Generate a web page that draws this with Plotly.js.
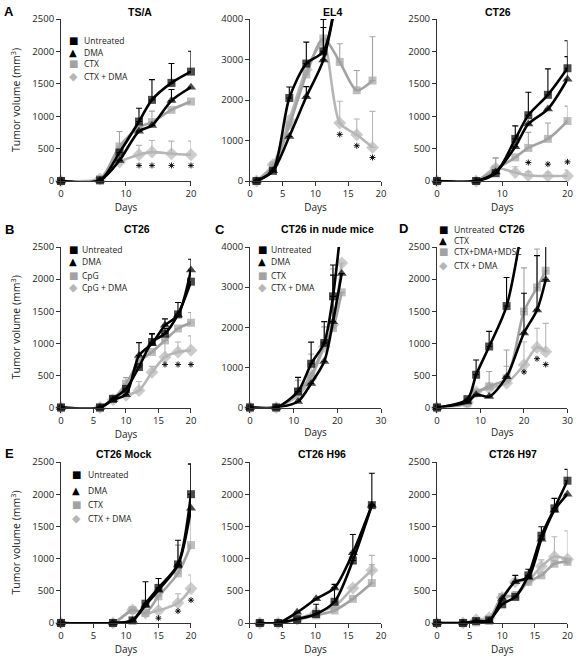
<!DOCTYPE html>
<html><head><meta charset="utf-8">
<script src="https://cdn.plot.ly/plotly-3.0.1.min.js"></script>
<style>body{margin:0;background:#fff}#chart{width:578px;height:662px}</style>
</head><body><div id="chart"></div>
<script>
// ---------- DATA ----------
// Panel A: TS/A
const A_days = [0, 6, 9, 12, 14, 17, 20];
const A_untreated = [0, 10, 440, 918, 1252, 1514, 1688];
const A_untreated_err = [0, 0, 0, 205, 313, 300, 315];
const A_dma = [0, 10, 318, 769, 857, 1241, 1446];
const A_dma_err = [0, 0, 0, 0, 0, 170, 0];
const A_ctx = [0, 30, 534, 830, 908, 1098, 1226];
const A_ctx_err = [0, 0, 230, 0, 170, 0, 0];
const A_combo = [0, 30, 292, 406, 446, 421, 406];
const A_combo_err = [0, 0, 0, 143, 180, 195, 210];
const A_star_x = [12, 14, 17, 20];
const A_star_y = [240, 240, 240, 240];

// Panel EL4
const EL4_days = [1, 3.5, 6, 8.6, 11.2, 13.7, 16.3, 18.7];
const EL4_untreated = [0, 250, 2050, 2900, 3200, 5300];
const EL4_untreated_err = [0, 0, 270, 530, 790, 0];
const EL4_dma = [0, 250, 1100, 2080, 2990, 5000];
const EL4_dma_err = [0, 0, 0, 250, 800, 0];
const EL4_ctx = [0, 350, 1370, 2630, 3520, 2940, 2240, 2480];
const EL4_ctx_err = [0, 120, 0, 0, 0, 450, 490, 1080];
const EL4_combo = [0, 400, 1500, 2750, 3400, 1430, 1140, 830];
const EL4_combo_err = [0, 0, 0, 0, 0, 540, 390, 890];
const EL4_star_x = [13.7, 16.3, 18.7];
const EL4_star_y = [1150, 870, 580];

// Panel CT26 (top right)
const T3_days = [0, 6, 9, 12, 14, 17, 20];
const T3_untreated = [0, 0, 120, 650, 1015, 1330, 1740];
const T3_untreated_err = [0, 0, 0, 200, 355, 400, 425];
const T3_dma = [0, 0, 140, 530, 880, 1110, 1570];
const T3_dma_err = [0, 0, 0, 0, 0, 0, 350];
const T3_ctx = [0, 0, 180, 365, 510, 650, 925];
const T3_ctx_err = [0, 0, 170, 0, 240, 245, 230];
const T3_combo = [0, 0, 200, 130, 85, 78, 78];
const T3_combo_err = [0, 0, 160, 90, 60, 57, 90];
const T3_star_x = [14, 17, 20];
const T3_star_y = [285, 260, 295];

// Panel B: CT26 + CpG
const B_days = [0, 6, 8, 10, 12, 14, 16, 18, 20];
const B_untreated = [0, 0, 135, 290, 630, 1020, 1150, 1450, 1960];
const B_untreated_err = [0, 0, 0, 0, 0, 130, 80, 185, 0];
const B_dma = [0, 0, 120, 200, 810, 995, 1280, 1440, 2140];
const B_dma_err = [0, 0, 0, 0, 200, 150, 100, 0, 170];
const B_cpg = [0, 0, 130, 370, 710, 865, 1045, 1230, 1320];
const B_cpg_err = [0, 0, 0, 95, 0, 0, 0, 0, 160];
const B_combo = [0, 0, 120, 190, 265, 550, 785, 865, 890];
const B_combo_err = [0, 0, 0, 0, 140, 90, 260, 155, 225];
const B_star_x = [16, 18, 20];
const B_star_y = [670, 670, 670];

// Panel C: CT26 in nude mice
const C_days = [0, 6, 11, 14, 17, 19, 21];
const C_untreated = [0, 0, 400, 1090, 1610, 2770, 4700];
const C_untreated_err = [0, 0, 350, 540, 530, 780, 0];
const C_dma = [0, 0, 150, 600, 1145, 2140, 3340];
const C_dma_err = [0, 0, 0, 0, 0, 1160, 0];
const C_ctx = [0, 0, 380, 800, 1560, 1980, 2870];
const C_ctx_err = [0, 0, 300, 0, 450, 0, 0];
const C_combo = [0, 0, 300, 730, 1520, 2060, 3600];
const C_combo_err = [0, 0, 0, 600, 0, 1390, 0];

// Panel D: CT26 with MDSC
const D_untreated_days = [0, 7, 9, 12, 16, 20];
const D_untreated = [0, 130, 510, 950, 1580, 3000];
const D_untreated_err = [0, 0, 230, 235, 445, 0];
const D_days = [0, 7, 9, 12, 16, 20, 23, 25];
const D_ctx = [0, 85, 200, 170, 480, 1160, 1520, 1990];
const D_ctx_err = [0, 0, 0, 0, 0, 620, 845, 530];
const D_mdsc = [0, 65, 230, 330, 455, 1495, 1870, 2130];
const D_mdsc_err = [0, 0, 0, 230, 440, 680, 600, 0];
const D_combo = [0, 80, 240, 300, 380, 665, 935, 870];
const D_combo_err = [0, 0, 0, 0, 260, 360, 300, 440];
const D_star_x = [20, 23, 25];
const D_star_y = [555, 760, 670];

// Panel E: CT26 Mock
const E_days = [0, 8, 11, 13, 15, 18, 20];
const E_untreated = [0, 0, 40, 300, 545, 910, 2000];
const E_untreated_err = [0, 0, 0, 340, 145, 375, 470];
const E_dma = [0, 0, 40, 275, 510, 900, 1780];
const E_dma_err = [0, 0, 0, 0, 0, 0, 690];
const E_ctx = [0, 0, 200, 155, 415, 770, 1210];
const E_ctx_err = [0, 0, 0, 0, 0, 440, 430];
const E_combo = [0, 0, 200, 155, 195, 310, 535];
const E_combo_err = [0, 0, 0, 0, 235, 145, 210];
const E_star_x = [15, 18, 20];
const E_star_y = [75, 185, 355];

// Panel CT26 H96
const H96_days = [1.5, 4.3, 7.2, 10.1, 12.9, 15.7, 18.6];
const H96_untreated = [0, 0, 60, 140, 330, 970, 1830];
const H96_untreated_err = [0, 0, 0, 150, 270, 405, 495];
const H96_dma = [0, 0, 165, 375, 545, 1090, 1830];
const H96_dma_err = [0, 0, 0, 0, 0, 0, 0];
const H96_ctx = [0, 0, 50, 120, 195, 375, 620];
const H96_ctx_err = [0, 0, 0, 0, 0, 0, 285];
const H96_combo = [0, 0, 60, 165, 260, 545, 820];
const H96_combo_err = [0, 0, 0, 0, 0, 0, 230];

// Panel CT26 H97
const H97_days = [0, 4, 6, 8, 10, 12, 14, 16, 18, 20];
const H97_untreated = [0, 0, 30, 40, 290, 405, 740, 1355, 1780, 2210];
const H97_untreated_err = [0, 0, 0, 0, 0, 0, 95, 140, 155, 175];
const H97_dma = [0, 0, 20, 30, 380, 640, 710, 1300, 1750, 2000];
const H97_dma_err = [0, 0, 0, 0, 0, 100, 0, 0, 0, 0];
const H97_ctx = [0, 0, 10, 60, 405, 425, 640, 740, 920, 950];
const H97_ctx_err = [0, 0, 0, 0, 0, 60, 0, 0, 0, 0];
const H97_combo = [0, 0, 50, 80, 395, 640, 665, 880, 1030, 990];
const H97_combo_err = [0, 0, 0, 0, 0, 0, 0, 100, 310, 440];

// Titles / legend labels
const panelTitles = ['TS/A', 'EL4', 'CT26', 'CT26', 'CT26 in nude mice', 'CT26', 'CT26 Mock', 'CT26 H96', 'CT26 H97'];
const panelLetters = ['A', 'B', 'C', 'D', 'E'];
const legendA = ['Untreated', 'DMA', 'CTX', 'CTX + DMA'];
const legendB = ['Untreated', 'DMA', 'CpG', 'CpG + DMA'];
const legendD = ['Untreated', 'CTX', 'CTX+DMA+MDSC', 'CTX + DMA'];

// ---------- STYLE ----------
const W = 578, H = 662;
const px = v => v / W, py = v => 1 - v / H;
const STY = {
  bSq: {color: '#000000', symbol: 'square', size: 8, glyph: '\u25A0'},
  bTri: {color: '#000000', symbol: 'triangle-up', size: 9, glyph: '\u25B2'},
  gSq: {color: '#a2a2a2', symbol: 'square', size: 8, glyph: '\u25A0'},
  gDia: {color: '#b6b6b6', symbol: 'diamond', size: 10, glyph: '\u25C6'}
};
const colDom = [[0.1055, 0.3304], [0.4325, 0.6592], [0.756, 0.9818]];
const rowDom = [[py(181), py(19)], [py(407.5), py(247)], [py(623), py(462)]];

const panels = [
  {xr: [0, 20], xd: 10, yr: [0, 2500], yd: 500, ytitle: true, series: [
    [A_days, A_combo, A_combo_err, 'gDia'], [A_days, A_ctx, A_ctx_err, 'gSq'],
    [A_days, A_dma, A_dma_err, 'bTri'], [A_days, A_untreated, A_untreated_err, 'bSq']], stars: [A_star_x, A_star_y]},
  {xr: [0, 20], xd: 5, yr: [0, 4000], yd: 1000, series: [
    [EL4_days, EL4_combo, EL4_combo_err, 'gDia'], [EL4_days, EL4_ctx, EL4_ctx_err, 'gSq'],
    [EL4_days, EL4_dma, EL4_dma_err, 'bTri'], [EL4_days, EL4_untreated, EL4_untreated_err, 'bSq']], stars: [EL4_star_x, EL4_star_y]},
  {xr: [0, 20], xd: 10, yr: [0, 2500], yd: 500, series: [
    [T3_days, T3_combo, T3_combo_err, 'gDia'], [T3_days, T3_ctx, T3_ctx_err, 'gSq'],
    [T3_days, T3_dma, T3_dma_err, 'bTri'], [T3_days, T3_untreated, T3_untreated_err, 'bSq']], stars: [T3_star_x, T3_star_y]},
  {xr: [0, 20], xd: 5, yr: [0, 2500], yd: 500, ytitle: true, series: [
    [B_days, B_combo, B_combo_err, 'gDia'], [B_days, B_cpg, B_cpg_err, 'gSq'],
    [B_days, B_dma, B_dma_err, 'bTri'], [B_days, B_untreated, B_untreated_err, 'bSq']], stars: [B_star_x, B_star_y]},
  {xr: [0, 30], xd: 10, yr: [0, 4000], yd: 1000, series: [
    [C_days, C_combo, C_combo_err, 'gDia'], [C_days, C_ctx, C_ctx_err, 'gSq'],
    [C_days, C_dma, C_dma_err, 'bTri'], [C_days, C_untreated, C_untreated_err, 'bSq']]},
  {xr: [0, 30], xd: 10, yr: [0, 2500], yd: 500, series: [
    [D_days, D_combo, D_combo_err, 'gDia'], [D_days, D_mdsc, D_mdsc_err, 'gSq'],
    [D_days, D_ctx, D_ctx_err, 'bTri'], [D_untreated_days, D_untreated, D_untreated_err, 'bSq']], stars: [D_star_x, D_star_y]},
  {xr: [0, 20], xd: 5, yr: [0, 2500], yd: 500, ytitle: true, series: [
    [E_days, E_combo, E_combo_err, 'gDia'], [E_days, E_ctx, E_ctx_err, 'gSq'],
    [E_days, E_dma, E_dma_err, 'bTri'], [E_days, E_untreated, E_untreated_err, 'bSq']], stars: [E_star_x, E_star_y]},
  {xr: [0, 20], xd: 5, yr: [0, 2500], yd: 500, series: [
    [H96_days, H96_combo, H96_combo_err, 'gDia'], [H96_days, H96_ctx, H96_ctx_err, 'gSq'],
    [H96_days, H96_dma, H96_dma_err, 'bTri'], [H96_days, H96_untreated, H96_untreated_err, 'bSq']]},
  {xr: [0, 20], xd: 5, yr: [0, 2500], yd: 500, series: [
    [H97_days, H97_combo, H97_combo_err, 'gDia'], [H97_days, H97_ctx, H97_ctx_err, 'gSq'],
    [H97_days, H97_dma, H97_dma_err, 'bTri'], [H97_days, H97_untreated, H97_untreated_err, 'bSq']]}
];

const tickFont = {family: 'Open Sans, sans-serif', size: 9.5, color: '#222'};
const traces = [];
const layout = {
  width: W, height: H, margin: {l: 0, r: 0, t: 0, b: 0},
  paper_bgcolor: '#fff', plot_bgcolor: 'rgba(0,0,0,0)', showlegend: false,
  annotations: []
};

panels.forEach((p, i) => {
  const k = i + 1, sfx = k === 1 ? '' : String(k);
  const row = Math.floor(i / 3), col = i % 3;
  p.series.forEach(([x, y, e, s]) => {
    const st = STY[s];
    traces.push({
      type: 'scatter', mode: 'lines+markers', x: x, y: y,
      xaxis: 'x' + sfx, yaxis: 'y' + sfx, cliponaxis: false, hoverinfo: 'skip',
      line: {color: st.color, width: 2.6, shape: 'spline', smoothing: 0.8},
      marker: {symbol: st.symbol, color: st.color, size: y.map(v => v > p.yr[1] ? 0 : st.size), line: {width: 0}},
      error_y: {type: 'data', symmetric: false, array: e.map(v => v > 0 ? v : null),
        arrayminus: e.map(() => 0), color: st.color, thickness: 1.1, width: 3}
    });
  });
  if (p.stars) {
    // significance asterisks drawn as line-based marker symbols
    traces.push({
      type: 'scatter', mode: 'markers', x: p.stars[0], y: p.stars[1],
      xaxis: 'x' + sfx, yaxis: 'y' + sfx, cliponaxis: false, hoverinfo: 'skip',
      marker: {symbol: 'asterisk-open', size: 5, color: '#000', line: {color: '#000', width: 0.9}}
    });
  }
  layout['xaxis' + sfx] = {
    domain: colDom[col], anchor: 'y' + sfx, range: p.xr, dtick: p.xd, tick0: 0,
    showgrid: false, zeroline: false, showline: true, linecolor: '#333', linewidth: 1,
    ticks: 'outside', ticklen: 4, tickcolor: '#333', tickfont: tickFont, fixedrange: true,
    title: {text: 'Days', font: {family: 'Open Sans, sans-serif', size: 10, color: '#222'}, standoff: 3}
  };
  layout['yaxis' + sfx] = {
    domain: rowDom[row], anchor: 'x' + sfx, range: p.yr, dtick: p.yd, tick0: 0,
    showgrid: false, zeroline: false, showline: true, linecolor: '#333', linewidth: 1,
    ticks: 'outside', ticklen: 4, tickcolor: '#333', tickfont: tickFont, fixedrange: true,
    title: p.ytitle ? {text: 'Tumor volume (mm<sup>3</sup>)', font: {family: 'Open Sans, sans-serif', size: 10.5, color: '#222'}, standoff: 9} : undefined
  };
});

// panel titles
const titlePos = [[140, 12], [333, 12], [498, 12], [137, 229], [327, 229], [512, 229], [124, 454], [322, 454], [513, 454]];
panelTitles.forEach((t, i) => layout.annotations.push({
  text: t, xref: 'paper', yref: 'paper', x: px(titlePos[i][0]), y: py(titlePos[i][1]),
  xanchor: 'center', yanchor: 'middle', showarrow: false,
  font: {family: 'Liberation Sans, Arial', size: 10.5, color: '#000', weight: 'bold'}
}));
// panel letters
const letterPos = [[9, 11], [9, 229], [220, 229], [403, 228], [9, 454]];
panelLetters.forEach((t, i) => layout.annotations.push({
  text: '<b>' + t + '</b>', xref: 'paper', yref: 'paper', x: px(letterPos[i][0]), y: py(letterPos[i][1]),
  xanchor: 'center', yanchor: 'middle', showarrow: false,
  font: {family: 'Liberation Sans, Arial', size: 13, color: '#000'}
}));
// legends
const legends = [
  {labels: legendA, sty: ['bSq', 'bTri', 'gSq', 'gDia'], sx: 73, tx: 82, rows: [40, 52, 64, 76]},
  {labels: legendB, sty: ['bSq', 'bTri', 'gSq', 'gDia'], sx: 73, tx: 80, rows: [249, 262, 275, 288]},
  {labels: legendA, sty: ['bSq', 'bTri', 'gSq', 'gDia'], sx: 262, tx: 269, rows: [249, 262, 275, 288]},
  {labels: legendD, sty: ['bSq', 'bTri', 'gSq', 'gDia'], sx: 443, tx: 452, rows: [229, 240, 252, 265]},
  {labels: legendA, sty: ['bSq', 'bTri', 'gSq', 'gDia'], sx: 76, tx: 86, rows: [474, 490, 504, 518]}
];
legends.forEach(L => L.labels.forEach((lab, j) => {
  const st = STY[L.sty[j]];
  layout.annotations.push({text: st.glyph, xref: 'paper', yref: 'paper', x: px(L.sx), y: py(L.rows[j]),
    xanchor: 'center', yanchor: 'middle', showarrow: false,
    font: {family: 'DejaVu Sans', size: st.symbol === 'diamond' ? 11 : 10, color: st.color}});
  layout.annotations.push({text: lab, xref: 'paper', yref: 'paper', x: px(L.tx), y: py(L.rows[j]),
    xanchor: 'left', yanchor: 'middle', showarrow: false,
    font: {family: 'Open Sans, sans-serif', size: 8.5, color: '#222'}});
}));

Plotly.newPlot('chart', traces, layout, {staticPlot: true, displayModeBar: false});
</script></body></html>
